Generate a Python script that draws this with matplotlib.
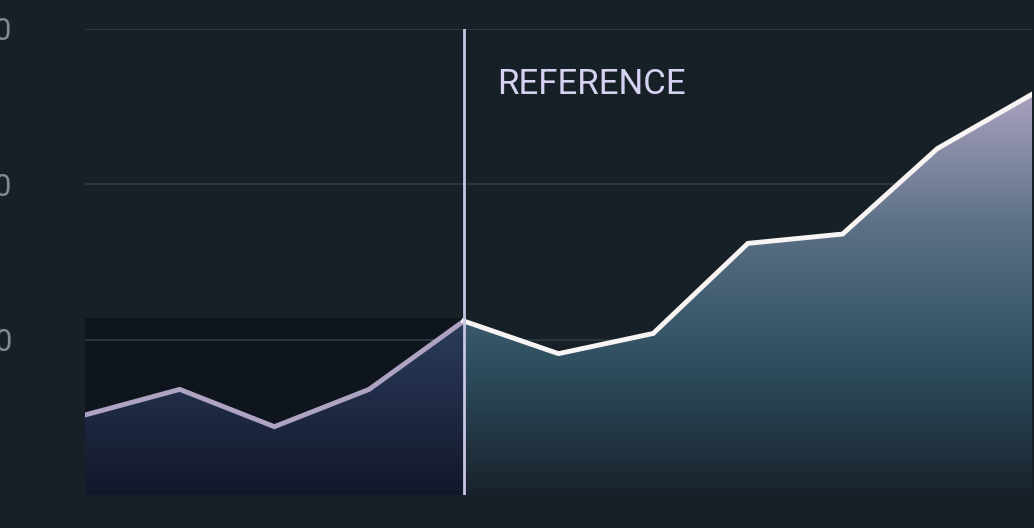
import numpy as np
import matplotlib.pyplot as plt
from matplotlib.colors import LinearSegmentedColormap
from matplotlib.patches import Polygon

x = np.arange(11)
values = [5.15, 6.8, 4.4, 6.8, 11.2, 9.1, 10.4, 16.2, 16.8, 22.3, 25.8]
ref_idx = 4
ref_label = "REFERENCE"
yticks = [0, 10, 20, 30]

bg = "#172026"
fig = plt.figure(figsize=(10.34, 5.28), dpi=100, facecolor=bg)
ax = fig.add_axes([85 / 1034, 33 / 528, 947 / 1034, 466 / 528], facecolor=bg)
ax.set_xlim(0, 10)
ax.set_ylim(0, 30)

# darker box behind the part before the reference
ax.axvspan(0, ref_idx, ymax=11.4 / 30, color="#0f151c", zorder=0.5, lw=0)

def grad_fill(xs, ys, colors, top):
    cmap = LinearSegmentedColormap.from_list("g", colors)
    grad = np.linspace(1, 0, 256).reshape(-1, 1)
    im = ax.imshow(grad, cmap=cmap, aspect="auto", extent=[xs[0], xs[-1], 0, top],
                   zorder=1, origin="upper")
    poly = Polygon(np.column_stack([np.r_[xs, xs[-1], xs[0]], np.r_[ys, 0, 0]]),
                   closed=True, transform=ax.transData, facecolor="none", edgecolor="none")
    ax.add_patch(poly)
    im.set_clip_path(poly)

xl, yl = x[:ref_idx + 1], values[:ref_idx + 1]
xr, yr = x[ref_idx:], values[ref_idx:]
grad_fill(xl, yl, ["#13172a", "#1f2a45", "#2c3d5a"], 11.4)
grad_fill(xr, yr, ["#18222c", "#2f5061", "#5b7086", "#aaa2c0"], 26)

for v in yticks:
    ax.axhline(v, color="#2a363d", lw=1.5, zorder=0.8)

ax.plot(xl, yl, color="#aea3c3", lw=3.5, zorder=3, solid_joinstyle="miter")
ax.plot(xr, yr, color="#f8f4f4", lw=3.5, zorder=3, solid_joinstyle="miter")
ax.axvline(ref_idx, color="#c8c6e4", lw=2, zorder=4)
ax.text(ref_idx + 0.35, 26.4, ref_label, color="#d6d2f2", fontsize=25,
        family="Roboto", va="center", ha="left", zorder=5)

ax.set_yticks(yticks)
ax.set_yticklabels([str(v) for v in yticks], fontsize=22, color="#7f8a91", family="Roboto")
ax.tick_params(axis="y", length=0, pad=77)
ax.set_xticks([])
for s in ax.spines.values():
    s.set_visible(False)
for lab in ax.get_yticklabels():
    lab.set_ha("left")

fig.savefig("out.png", dpi=100, facecolor=bg)
